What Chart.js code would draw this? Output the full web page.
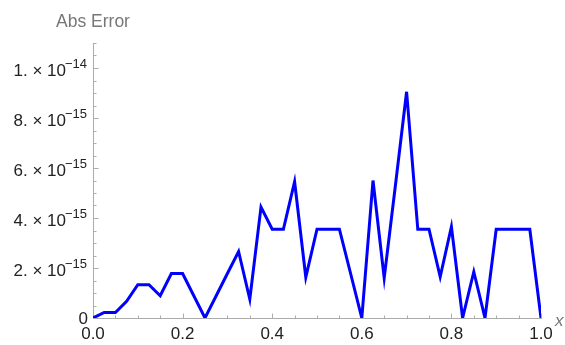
<!DOCTYPE html>
<html>
<head>
<meta charset="utf-8">
<script src="https://cdn.jsdelivr.net/npm/chart.js@4/dist/chart.umd.min.js"></script>
<style>
  html, body { margin: 0; padding: 0; background: #ffffff; }
  #wrap { width: 565px; height: 345px; }
</style>
</head>
<body>
<div id="wrap"><canvas id="plot" width="565" height="345"></canvas></div>
<script>
// Sample positions on [0, 1]
const xValues = [
  0, 0.025, 0.05, 0.075, 0.1, 0.125, 0.15, 0.175, 0.2, 0.225,
  0.25, 0.275, 0.3, 0.325, 0.35, 0.375, 0.4, 0.425, 0.45, 0.475,
  0.5, 0.525, 0.55, 0.575, 0.6, 0.625, 0.65, 0.675, 0.7, 0.725,
  0.75, 0.775, 0.8, 0.825, 0.85, 0.875, 0.9, 0.925, 0.95, 0.975, 1
];
// Absolute error, in units of 1e-15
const absErrorE15 = [
  0, 0.22, 0.22, 0.67, 1.33, 1.33, 0.89, 1.78, 1.78, 0.89,
  0, 0.89, 1.78, 2.66, 0.75, 4.44, 3.55, 3.55, 5.45, 1.63,
  3.55, 3.55, 3.55, 1.78, 0, 5.5, 1.6, 5.3, 9.05, 3.55,
  3.55, 1.65, 3.65, 0, 1.85, 0, 3.55, 3.55, 3.55, 3.55, 0
];
// Axis labelling
const xTickLabels = ['0.0', '0.2', '0.4', '0.6', '0.8', '1.0'];
const yTickValues = [0, 2, 4, 6, 8, 10];
const yTickMantissa = ['0', '2.', '4.', '6.', '8.', '1.'];
const yTickExponent = ['', '\u221215', '\u221215', '\u221215', '\u221215', '\u221214'];

const axisColor = '#ababab';
const labelColor = '#222222';
const FONT = '"Liberation Sans", Arial, sans-serif';

const points = xValues.map((x, i) => ({ x: x, y: absErrorE15[i] }));

// Inward tick marks on both axes, plus the scientific-notation labels
const tickMarks = {
  id: 'tickMarks',
  beforeDatasetsDraw(chart) {
    const { ctx, scales: { x, y } } = chart;
    ctx.save();
    ctx.strokeStyle = axisColor;
    ctx.lineWidth = 1;
    const y0 = Math.round(y.getPixelForValue(0)) + 0.5;
    const x0 = Math.round(x.getPixelForValue(0)) + 0.5;
    for (let i = 0; i <= 20; i++) {
      const px = Math.round(x.getPixelForValue(i * 0.05)) + 0.5;
      const len = (i % 4 === 0) ? 5 : 3;
      ctx.beginPath(); ctx.moveTo(px, y0); ctx.lineTo(px, y0 - len); ctx.stroke();
    }
    for (let i = 0; i <= 22; i++) {
      const py = Math.round(y.getPixelForValue(i * 0.5)) + 0.5;
      const len = (i % 4 === 0) ? 5 : 3;
      ctx.beginPath(); ctx.moveTo(x0, py); ctx.lineTo(x0 + len, py); ctx.stroke();
    }
    ctx.restore();
  },
  afterDraw(chart) {
    const { ctx, chartArea: a, scales: { x, y } } = chart;
    ctx.save();
    const right = a.left - 6;
    yTickValues.forEach((v, i) => {
      const py = y.getPixelForValue(v);
      ctx.fillStyle = labelColor;
      ctx.textAlign = 'right';
      ctx.textBaseline = 'alphabetic';
      if (!yTickExponent[i]) {
        ctx.font = '17px ' + FONT;
        ctx.fillText(yTickMantissa[i], right + 1, py + 6);
        return;
      }
      ctx.font = '13px ' + FONT;
      const supW = ctx.measureText(yTickExponent[i]).width;
      ctx.fillText(yTickExponent[i], right, py);
      ctx.font = '17px ' + FONT;
      ctx.fillText(yTickMantissa[i] + ' \u00d7 ' + '10', right - supW + 1, py + 8);
    });
    // axis captions
    ctx.fillStyle = '#777777';
    ctx.textAlign = 'center';
    ctx.textBaseline = 'middle';
    ctx.font = '17.5px ' + FONT;
    ctx.fillText('Abs Error', a.left, 22);
    ctx.font = 'italic 17px ' + FONT;
    ctx.textAlign = 'left';
    ctx.fillText('x', a.right + 14, a.bottom + 3);
    ctx.restore();
  }
};

new Chart(document.getElementById('plot'), {
  type: 'line',
  data: {
    datasets: [{
      data: points,
      borderColor: '#0000ff',
      borderWidth: 3,
      borderJoinStyle: 'miter',
      pointRadius: 0,
      tension: 0,
      fill: false
    }]
  },
  options: {
    responsive: false,
    animation: false,
    layout: { padding: { top: 43, right: 24, left: 0, bottom: 0 } },
    plugins: { legend: { display: false }, tooltip: { enabled: false } },
    scales: {
      x: {
        type: 'linear',
        min: 0,
        max: 1,
        afterFit(s) { s.height = 27; },
        border: { color: axisColor, width: 1 },
        grid: { drawOnChartArea: false, drawTicks: false },
        ticks: {
          stepSize: 0.2,
          autoSkip: false,
          maxRotation: 0,
          padding: 6,
          color: labelColor,
          font: { family: FONT, size: 17 },
          callback: (v, i) => xTickLabels[i]
        }
      },
      y: {
        type: 'linear',
        min: 0,
        max: 11,
        afterFit(s) { s.width = 93; },
        border: { color: axisColor, width: 1 },
        grid: { drawOnChartArea: false, drawTicks: false },
        ticks: { display: false }
      }
    }
  },
  plugins: [tickMarks]
});
</script>
</body>
</html>
